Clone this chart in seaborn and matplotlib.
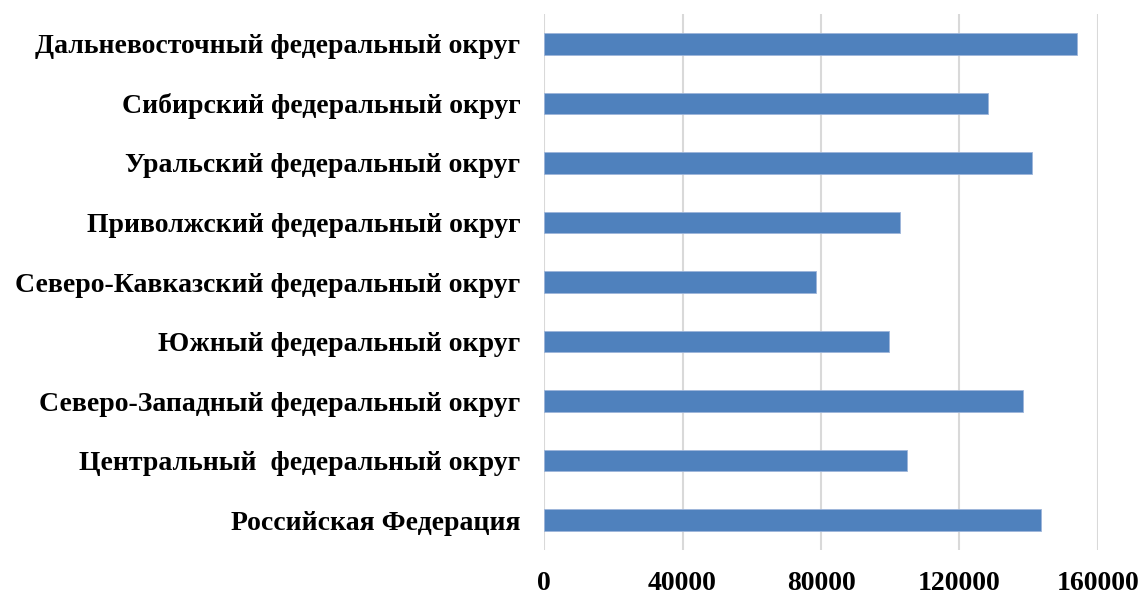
import matplotlib
matplotlib.use("Agg")
import matplotlib.pyplot as plt
import pandas as pd
import seaborn as sns

regions = [
    "Дальневосточный федеральный округ",
    "Сибирский федеральный округ",
    "Уральский федеральный округ",
    "Приволжский федеральный округ",
    "Северо-Кавказский федеральный округ",
    "Южный федеральный округ",
    "Северо-Западный федеральный округ",
    "Центральный  федеральный округ",
    "Российская Федерация",
]
values = [154000, 128300, 141000, 102700, 78600, 99700, 138400, 104800, 143500]
xticks = [0, 40000, 80000, 120000, 160000]

df = pd.DataFrame({"region": regions, "value": values})

sns.set_style("white")
plt.rcParams["font.family"] = ["Liberation Serif", "DejaVu Serif"]

fig = plt.figure(figsize=(11.41, 5.94), dpi=100)
ax = fig.add_axes([0.4768, 0.0741, 0.9623 - 0.4768, 0.9764 - 0.0741])

sns.barplot(data=df, x="value", y="region", orient="h", color="#4F81BD",
            width=0.36, saturation=1, edgecolor="#9DB5DA", linewidth=0.6, ax=ax, zorder=3)

ax.set_xlim(0, 160000)
ax.set_xticks(xticks)
ax.set_xticklabels([str(t) for t in xticks], fontsize=20, fontweight="bold", color="black")
ax.set_yticks(range(len(regions)))
ax.set_yticklabels(regions, fontsize=20, fontweight="bold", color="black")
ax.tick_params(axis="y", length=0, pad=17)
ax.tick_params(axis="x", length=0, pad=15)
ax.grid(axis="x", color="#D9D9D9", linewidth=1.5, zorder=0)
ax.grid(axis="y", visible=False)
for s in ax.spines.values():
    s.set_visible(False)
ax.set_xlabel("")
ax.set_ylabel("")

fig.savefig("out.png", dpi=100)
